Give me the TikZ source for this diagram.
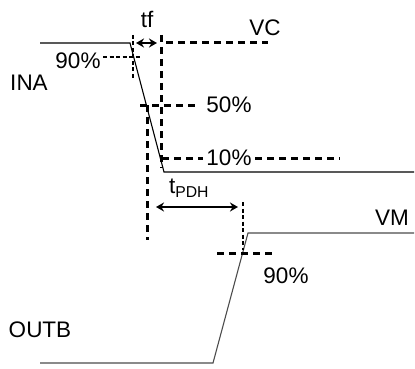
\documentclass[tikz,border=0pt]{standalone}
\usepackage{fontspec}
\setmainfont{Liberation Sans}
\usetikzlibrary{arrows.meta}
\begin{document}
\begin{tikzpicture}[x=1pt,y=-1pt,
  wave/.style={line width=1.1pt,black},
  owave/.style={line width=1.1pt,black!70},
  thickdash/.style={line width=3pt,dash pattern=on 7pt off 5pt},
  thindash/.style={line width=2.2pt,dash pattern=on 4pt off 2.5pt},
  dimarrow/.style={line width=2.8pt,{Stealth[length=8pt,width=9pt]}-{Stealth[length=8pt,width=9pt]}},
  lbl/.style={inner sep=0pt,font=\fontsize{22.5}{26}\selectfont}]
\useasboundingbox (0,0) rectangle (415,369);
% input waveform
\coordinate (a1) at (40,43);
\coordinate (a2) at (130,43);
\coordinate (a3) at (164,172);
\coordinate (a4) at (414,172);
\draw[wave] (a1) -- (a2) -- (a3) -- (a4);
% output waveform
\coordinate (b1) at (40,363);
\coordinate (b2) at (213,363);
\coordinate (b3) at (248,233);
\coordinate (b4) at (414,233);
\draw[owave] (b1) -- (b2) -- (b3) -- (b4);
% thin vertical at 90%
\coordinate (v1t) at (133,35);
\coordinate (v1b) at (133,80);
\draw[thindash] (v1t) -- (v1b);
% 90% dashed upper
\coordinate (h90a) at (103,57);
\coordinate (h90b) at (141,57);
\draw[thindash] (h90a) -- (h90b);
% thick vertical at 10%
\coordinate (v2t) at (161,35);
\coordinate (v2b) at (161,168);
\draw[thickdash] (v2t) -- (v2b);
% VC dashed
\coordinate (vca) at (166,43);
\coordinate (vcb) at (268,43);
\draw[thickdash] (vca) -- (vcb);
% 50% dashed
\coordinate (h50a) at (140,105);
\coordinate (h50b) at (195,105);
\draw[thickdash] (h50a) -- (h50b);
% thick vertical at 50%
\coordinate (v3t) at (147,105);
\coordinate (v3b) at (147,240);
\draw[thickdash] (v3t) -- (v3b);
% 10% dashed
\coordinate (h10a) at (162,158);
\coordinate (h10b) at (203,158);
\coordinate (h10c) at (255,158);
\coordinate (h10d) at (340,158);
\draw[thickdash] (h10a) -- (h10b);
\draw[thickdash] (h10c) -- (h10d);
% tf arrow
\coordinate (tfa) at (136,43);
\coordinate (tfb) at (157,43);
\draw[dimarrow] (tfa) -- (tfb);
% tPDH arrow
\coordinate (tpa) at (156,207);
\coordinate (tpb) at (238,207);
\draw[dimarrow] (tpa) -- (tpb);
% thin vertical output
\coordinate (v4t) at (243,202);
\coordinate (v4b) at (243,250);
\draw[thindash] (v4t) -- (v4b);
% 90% dashed lower
\coordinate (l90a) at (217,253);
\coordinate (l90b) at (272,253);
\draw[thickdash] (l90a) -- (l90b);
% labels
\node[lbl] (ina) at (29,83) {INA};
\node[lbl] (p90a) at (78,61) {90\%};
\node[lbl] (tf) at (147,19) {tf};
\node[lbl] (vc) at (265,28) {VC};
\node[lbl] (p50) at (229,105) {50\%};
\node[lbl] (p10) at (229,158) {10\%};
\node[lbl] (tpdh) at (189,188) {t\textsubscript{PDH}};
\node[lbl] (vm) at (392,218) {VM};
\node[lbl] (p90b) at (286,276) {90\%};
\node[lbl] (outb) at (40,330) {OUTB};
\end{tikzpicture}
\end{document}
